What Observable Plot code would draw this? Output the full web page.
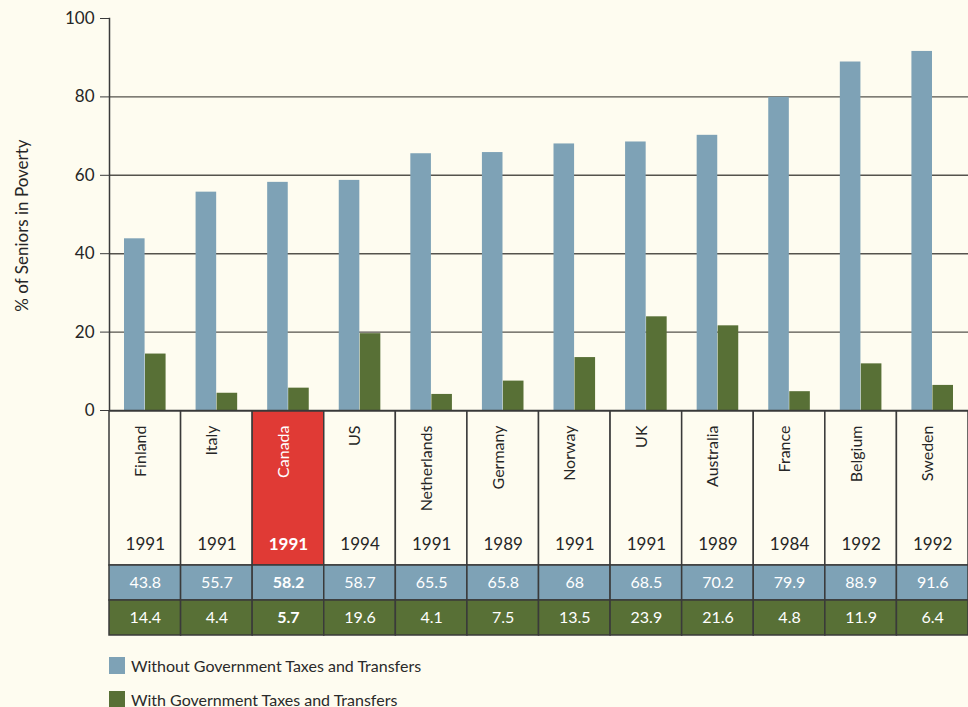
<!DOCTYPE html>
<html>
<head>
<meta charset="utf-8">
<script src="https://cdn.jsdelivr.net/npm/d3@7"></script>
<script src="https://cdn.jsdelivr.net/npm/@observablehq/plot@0.6"></script>
<style>
  html, body { margin: 0; padding: 0; background: #fefcf0; }
  body { width: 968px; height: 707px; overflow: hidden; font-family: Lato, "Open Sans", sans-serif; }
  svg { display: block; background: transparent !important; overflow: visible; }
  .legend { margin-left: 109px; color: #2a2a2a; font-size: 16px; }
  .legend div { display: flex; align-items: center; height: 34px; }
  .legend span.sw { display: inline-block; width: 16px; height: 17px; margin-right: 6px; }
</style>
</head>
<body>
<div id="chart"></div>
<script>
const countries = ["Finland","Italy","Canada","US","Netherlands","Germany","Norway","UK","Australia","France","Belgium","Sweden"];
const years = ["1991","1991","1991","1994","1991","1989","1991","1991","1989","1984","1992","1992"];
const without = [43.8, 55.7, 58.2, 58.7, 65.5, 65.8, 68, 68.5, 70.2, 79.9, 88.9, 91.6];
const withT = [14.4, 4.4, 5.7, 19.6, 4.1, 7.5, 13.5, 23.9, 21.6, 4.8, 11.9, 6.4];
const yTicks = [0, 20, 40, 60, 80, 100];
const gridTicks = [20, 40, 60, 80];
const highlight = "Canada";
const yLabel = "% of Seniors in Poverty";
const seriesNames = ["Without Government Taxes and Transfers", "With Government Taxes and Transfers"];

const BLUE = "#7ea2b6", GREEN = "#587036", RED = "#e03a35", INK = "#262626", LINE = "#3a3a3a", BG = "#fefcf0";
const font = "Lato, 'Open Sans', sans-serif";
const rows = countries.map((c, i) => ({country: c, year: years[i], without: without[i], with: withT[i]}));
const xOpts = {domain: countries, padding: 0, round: false};
const common = {width: 968, marginLeft: 109, marginRight: 0, style: {background: "transparent", fontFamily: font, overflow: "visible"}};

const chart = Plot.plot({
  ...common,
  height: 411, marginTop: 18, marginBottom: 1,
  x: {...xOpts, axis: null},
  y: {domain: [0, 100], axis: null},
  marks: [
    Plot.ruleY(gridTicks, {stroke: "#55534d", strokeWidth: 1.4}),
    Plot.barY(rows, {x: "country", y: "without", fill: BLUE, insetLeft: 15, insetRight: 36}),
    Plot.barY(rows, {x: "country", y: "with", fill: GREEN, insetLeft: 36, insetRight: 15}),
    Plot.axisY({ticks: yTicks, tickSize: 9, tickPadding: 6, fontSize: 17, color: INK, stroke: LINE, label: null}),
    Plot.text([yLabel], {text: d => d, frameAnchor: "left", textAnchor: "middle", rotate: -90, dx: -87, dy: 11, fontSize: 17, fill: INK}),
    Plot.frame({anchor: "left", stroke: LINE, strokeWidth: 1.5}),
    Plot.ruleY([0], {stroke: LINE, strokeWidth: 1.5})
  ]
});

const header = Plot.plot({
  ...common,
  height: 154, marginTop: 0, marginBottom: 0,
  x: {...xOpts, axis: null},
  marks: [
    Plot.cell(rows, {x: "country", fill: d => d.country === highlight ? RED : BG, stroke: LINE, strokeWidth: 1.5}),
    Plot.text(rows, {x: "country", text: "country", frameAnchor: "top", dy: 14, dx: -11, rotate: -90, textAnchor: "end",
      fontSize: 16, fill: d => d.country === highlight ? "white" : INK}),
    Plot.text(rows.filter(d => d.country !== highlight), {x: "country", text: "year", frameAnchor: "bottom", dy: -16,
      fontSize: 17, fill: INK}),
    Plot.text(rows.filter(d => d.country === highlight), {x: "country", text: "year", frameAnchor: "bottom", dy: -16,
      fontSize: 17, fontWeight: "bold", fill: "white"})
  ]
});

const tableRows = [];
for (const r of rows) {
  tableRows.push({country: r.country, series: "without", value: r.without});
  tableRows.push({country: r.country, series: "with", value: r.with});
}
const valueTable = Plot.plot({
  ...common,
  height: 71, marginTop: 0, marginBottom: 1,
  x: {...xOpts, axis: null},
  y: {domain: ["without", "with"], padding: 0, axis: null},
  color: {domain: ["without", "with"], range: [BLUE, GREEN]},
  marks: [
    Plot.cell(tableRows, {x: "country", y: "series", fill: "series", stroke: LINE, strokeWidth: 1.5}),
    Plot.text(tableRows.filter(d => d.country !== highlight), {x: "country", y: "series", text: d => String(d.value),
      fill: "white", fontSize: 16}),
    Plot.text(tableRows.filter(d => d.country === highlight), {x: "country", y: "series", text: d => String(d.value),
      fill: "white", fontSize: 16, fontWeight: "bold"})
  ]
});

const root = document.getElementById("chart");
root.append(chart, header, valueTable);
const legend = document.createElement("div");
legend.className = "legend";
legend.style.marginTop = "12px";
[[BLUE, seriesNames[0]], [GREEN, seriesNames[1]]].forEach(([c, t]) => {
  const row = document.createElement("div");
  const sw = document.createElement("span");
  sw.className = "sw"; sw.style.background = c;
  row.append(sw, document.createTextNode(t));
  legend.append(row);
});
root.append(legend);
</script>
</body>
</html>
